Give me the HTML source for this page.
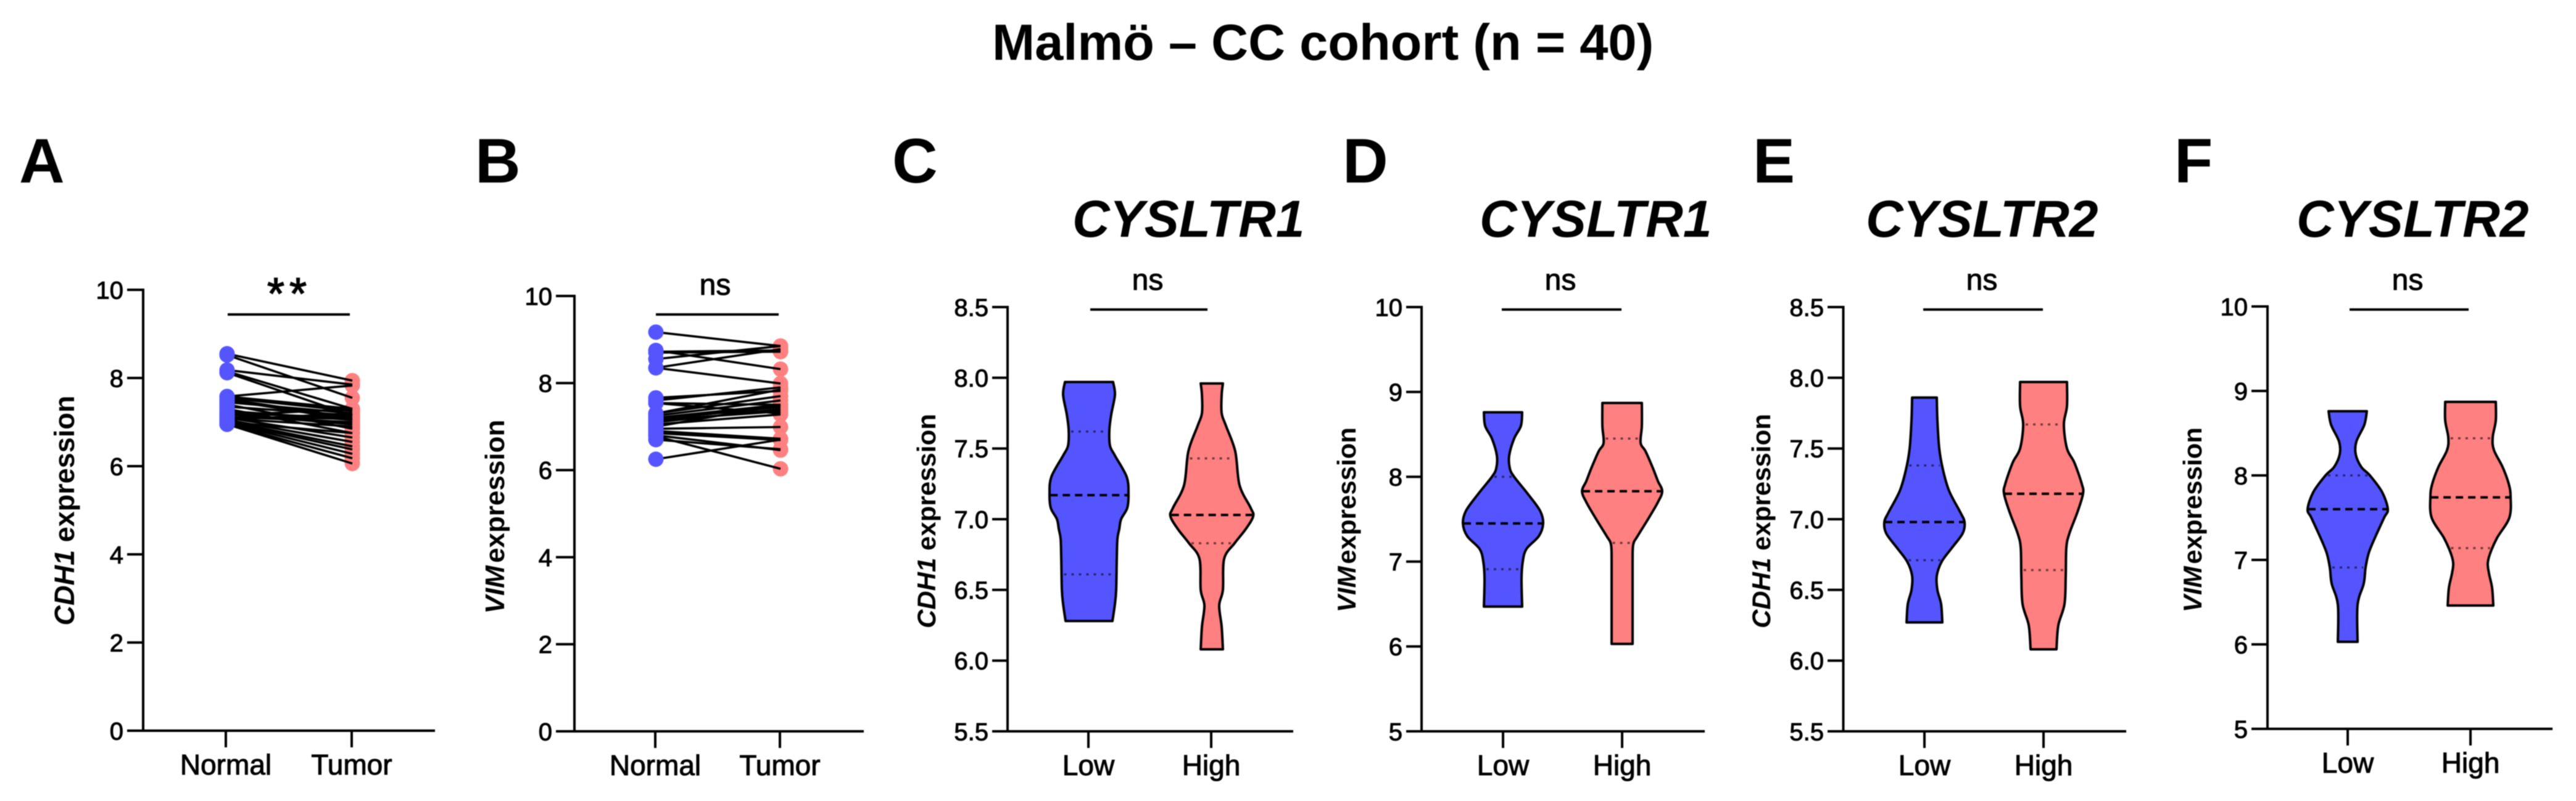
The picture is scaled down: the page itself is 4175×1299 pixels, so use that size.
<!DOCTYPE html>
<html lang="en">
<head>
<meta charset="utf-8">
<title>Malmö – CC cohort (n = 40)</title>
<style>
html,body{margin:0;padding:0;background:#fff;width:4175px;height:1299px;overflow:hidden}
svg{display:block;font-family:"Liberation Sans",Arial,sans-serif;filter:blur(0.8px)}
.letter{font-size:102px;font-weight:700;fill:#000}
.gene{font-size:84px;font-weight:700;font-style:italic;fill:#000}
.ytitle{font-weight:700;fill:#000}
.ytitle .it{font-style:italic}
.sig{font-size:48px;fill:#000;text-anchor:middle;stroke:#000;stroke-width:1px}
.tick{font-size:40px;fill:#000;text-anchor:end;stroke:#000;stroke-width:1px}
.cat{font-size:46px;fill:#000;text-anchor:middle;stroke:#000;stroke-width:1px}
</style>
</head>
<body>
<svg id="chart" xmlns="http://www.w3.org/2000/svg" width="4175" height="1299" viewBox="0 0 4175 1299">
  <rect width="4175" height="1299" fill="#fff"/>
  <text x="1608" y="97" font-size="83" font-weight="700">Malmö – CC cohort (n = 40)</text>

  <text class="letter" x="31" y="296">A</text>
  <text class="letter" x="770" y="296">B</text>
  <text class="letter" x="1446" y="296">C</text>
  <text class="letter" x="2176" y="296">D</text>
  <text class="letter" x="2841" y="296">E</text>
  <text class="letter" x="3524" y="296">F</text>

  <text class="gene" x="1738" y="384">CYSLTR1</text>
  <text class="gene" x="2398" y="384">CYSLTR1</text>
  <text class="gene" x="3024" y="384">CYSLTR2</text>
  <text class="gene" x="3722" y="384">CYSLTR2</text>

  <text class="ytitle" font-size="45" text-anchor="middle" transform="translate(120,828) rotate(-90)"><tspan class="it">CDH1</tspan> expression</text>
  <text class="ytitle" font-size="44" word-spacing="-8" text-anchor="middle" transform="translate(817,838) rotate(-90)"><tspan class="it">VIM</tspan> expression</text>
  <text class="ytitle" font-size="42" text-anchor="middle" transform="translate(1516,845) rotate(-90)"><tspan class="it">CDH1</tspan> expression</text>
  <text class="ytitle" font-size="42" word-spacing="-8" text-anchor="middle" transform="translate(2197,843) rotate(-90)"><tspan class="it">VIM</tspan> expression</text>
  <text class="ytitle" font-size="42" text-anchor="middle" transform="translate(2869,845) rotate(-90)"><tspan class="it">CDH1</tspan> expression</text>
  <text class="ytitle" font-size="42" word-spacing="-8" text-anchor="middle" transform="translate(3568,843) rotate(-90)"><tspan class="it">VIM</tspan> expression</text>

  <text x="469" y="501" font-size="72" letter-spacing="8" text-anchor="middle" stroke="#000" stroke-width="1.5">**</text>
  <text class="sig" x="1159" y="478">ns</text>
  <text class="sig" x="1860" y="470">ns</text>
  <text class="sig" x="2529" y="470">ns</text>
  <text class="sig" x="3212" y="470">ns</text>
  <text class="sig" x="3902" y="470">ns</text>
</svg>
<script>
// ---- tick labels and categories
const pairedTickValues = [0, 2, 4, 6, 8, 10];
const cdh1ViolinTicks = [5.5, 6.0, 6.5, 7.0, 7.5, 8.0, 8.5];
const vimViolinTicks = [5, 6, 7, 8, 9, 10];
const pairedCategories = ['Normal', 'Tumor'];
const violinCategories = ['Low', 'High'];

// ---- panel A: paired CDH1 expression
const aNormal = [8.55,8.52,8.18,8.15,8.12,7.58,7.58,7.55,7.52,7.5,7.45,7.4,7.35,7.3,7.25,7.2,7.18,7.15,7.12,7.1,7.08,7.05,7.05,7.02,7.0,6.98,6.95,6.95,7.0,7.1];
const aTumor  = [7.94,7.55,7.85,7.3,7.15,7.83,7.3,7.25,7.1,7.05,7.2,6.85,7.15,6.75,7.05,7.1,6.95,7.3,7.0,6.65,6.9,6.55,7.2,6.45,6.38,6.28,6.18,6.06,6.75,7.08];

// ---- panel B: paired VIM expression
const bNormal = [9.17,8.75,8.72,8.7,8.55,8.35,8.35,7.66,7.6,7.54,7.54,7.3,7.3,7.25,7.2,7.17,7.15,7.1,7.05,7.0,6.95,6.9,6.85,6.8,6.78,6.7,6.25];
const bTumor  = [8.85,8.32,8.75,8.72,8.85,8.78,7.99,7.82,7.9,7.5,7.3,7.85,7.7,7.6,7.5,7.45,7.35,7.4,7.28,7.5,6.99,6.72,6.69,6.46,6.03,6.48,6.7];

// ---- violin profiles: value levels, density half-widths, quartiles [q1, median, q3]
const cLowLevels   = [7.97,7.88,7.74,7.63,7.52,7.45,7.3,7.18,7.08,7.0,6.93,6.86,6.72,6.5,6.4,6.28];
const cLowDensity  = [39,42,36,33,34,42,61,64,62,52,49,46,45,44,42,38];
const cLowStats    = [6.61,7.17,7.62];
const cHighLevels  = [7.96,7.88,7.75,7.66,7.48,7.24,7.08,7.02,6.93,6.83,6.72,6.5,6.39,6.24,6.08];
const cHighDensity = [18,16,16,23,38,45,63,67,55,37,20,18,12,16,18];
const cHighStats   = [6.83,7.03,7.43];

const dLowLevels   = [8.76,8.6,8.45,8.25,8.1,8.0,7.8,7.6,7.45,7.3,7.15,7.0,6.8,6.47];
const dLowDensity  = [31,29,18,10,11,18,40,60,65,58,38,32,30,31];
const dLowStats    = [6.91,7.45,8.0];
const dHighLevels  = [8.87,8.6,8.4,8.3,8.1,7.95,7.83,7.7,7.5,7.3,7.2,7.0,6.6,6.03];
const dHighDensity = [32,32,30,38,50,58,65,58,42,25,18,17,17,17];
const dHighStats   = [7.22,7.83,8.45];

const eLowLevels   = [7.86,7.7,7.5,7.35,7.2,7.05,6.98,6.9,6.8,6.7,6.6,6.5,6.4,6.27];
const eLowDensity  = [20,21,24,30,40,58,65,62,45,28,20,21,27,29];
const eLowStats    = [6.71,6.98,7.38];
const eHighLevels  = [7.97,7.8,7.67,7.5,7.4,7.25,7.18,7.05,6.9,6.8,6.6,6.4,6.25,6.08];
const eHighDensity = [38,38,33,38,50,62,64,55,42,37,36,34,24,21];
const eHighStats   = [6.64,7.18,7.67];

const fLowLevels   = [8.76,8.6,8.4,8.25,8.1,8.0,7.8,7.6,7.5,7.26,7.08,6.91,6.72,6.47,6.03];
const fLowDensity  = [31,27,14,13,22,36,56,65,59,44,34,29,26,16,16];
const fLowStats    = [6.91,7.6,8.0];
const fHighLevels  = [8.87,8.65,8.45,8.3,8.1,7.9,7.75,7.5,7.26,7.08,6.96,6.84,6.67,6.46];
const fHighDensity = [41,41,36,38,52,62,65,63,43,32,28,30,35,37];
const fHighStats   = [7.14,7.74,8.44];

const BLUE = '#5555ff';
const PINK = '#ff8080';
const NS = 'http://www.w3.org/2000/svg';
const svg = document.getElementById('chart');

function make(tag, parent) {
  const el = document.createElementNS(NS, tag);
  parent.appendChild(el);
  return el;
}
function group(name) {
  const g = make('g', svg);
  
  
  return g;
}
function drawLine(parent, name, x1, y1, x2, y2, w, color, dash) {
  const l = make('line', parent);
  
  
  l.setAttribute('x1', x1); l.setAttribute('y1', y1);
  l.setAttribute('x2', x2); l.setAttribute('y2', y2);
  l.setAttribute('stroke', color || '#000');
  l.setAttribute('stroke-width', w || 4);
  if (dash) l.setAttribute('stroke-dasharray', dash);
  return l;
}
function drawText(parent, name, cls, x, y, str) {
  const t = make('text', parent);
  
  
  t.setAttribute('class', cls);
  t.setAttribute('x', x); t.setAttribute('y', y);
  t.textContent = str;
  return t;
}
function linearScale(d0, d1, r0, r1) {
  return v => r0 + (v - d0) * (r1 - r0) / (d1 - d0);
}
function drawAxes(g, o) {
  const y = linearScale(o.dMin, o.dMax, o.y0, o.y1);
  drawLine(g, 'y-axis', o.ax, o.y1 - 2, o.ax, o.y0 + 2);
  drawLine(g, 'x-axis', o.tickStart, o.y0, o.xEnd, o.y0);
  o.ticks.forEach(v => {
    const py = y(v);
    if (v !== o.dMin) drawLine(g, 'y-tick', o.tickStart, py, o.ax, py);
    drawText(g, 'y-tick-label', 'tick', o.tickStart - 6, py + 14.3, o.fmt(v));
  });
  o.cats.forEach((c, i) => {
    drawLine(g, 'x-tick', o.catX[i], o.y0, o.catX[i], o.y0 + 27);
    drawText(g, 'x-tick-label-' + c.toLowerCase(), 'cat', o.catX[i], o.y0 + 71, c);
  });
  drawLine(g, 'significance-bar', o.bar[0], o.bar[2], o.bar[1], o.bar[2]);
  return y;
}
function drawPaired(name, o, left, right, dotX) {
  const g = group(name);
  const y = drawAxes(g, o);
  right.forEach(v => {
    const c = make('circle', g);
    
    
    c.setAttribute('cx', dotX[1]); c.setAttribute('cy', y(v)); c.setAttribute('r', 12.5);
    c.setAttribute('fill', PINK);
  });
  left.forEach((v, i) => {
    drawLine(g, 'pair-line', dotX[0], y(v), dotX[1], y(right[i]), 3.6, '#000');
  });
  left.forEach(v => {
    const c = make('circle', g);
    
    
    c.setAttribute('cx', dotX[0]); c.setAttribute('cy', y(v)); c.setAttribute('r', 12.5);
    c.setAttribute('fill', BLUE);
  });
}
function halfWidthAt(levels, density, v) {
  for (let i = 0; i < levels.length - 1; i++) {
    if (v <= levels[i] && v >= levels[i + 1]) {
      const t = (levels[i] - v) / (levels[i] - levels[i + 1]);
      return density[i] + t * (density[i + 1] - density[i]);
    }
  }
  return density[0];
}
function sidePath(pts) {
  let d = '';
  for (let i = 0; i < pts.length - 1; i++) {
    const p0 = pts[Math.max(i - 1, 0)], p1 = pts[i], p2 = pts[i + 1], p3 = pts[Math.min(i + 2, pts.length - 1)];
    const c1x = p1[0] + (p2[0] - p0[0]) / 6, c1y = p1[1] + (p2[1] - p0[1]) / 6;
    const c2x = p2[0] - (p3[0] - p1[0]) / 6, c2y = p2[1] - (p3[1] - p1[1]) / 6;
    d += 'C' + c1x + ' ' + c1y + ' ' + c2x + ' ' + c2y + ' ' + p2[0] + ' ' + p2[1];
  }
  return d;
}
function drawViolin(parent, name, y, cx, levels, density, stats, fill) {
  const right = levels.map((v, i) => [cx + density[i], y(v)]);
  const left = levels.map((v, i) => [cx - density[i], y(v)]).reverse();
  const d = 'M' + left[left.length - 1][0] + ' ' + left[left.length - 1][1] +
    'L' + right[0][0] + ' ' + right[0][1] + sidePath(right) +
    'L' + left[0][0] + ' ' + left[0][1] + sidePath(left) + 'Z';
  const p = make('path', parent);
  
  
  p.setAttribute('d', d);
  p.setAttribute('fill', fill);
  p.setAttribute('stroke', '#000');
  p.setAttribute('stroke-width', 4);
  p.setAttribute('stroke-linejoin', 'round');
  [0, 2].forEach(i => {
    const hw = halfWidthAt(levels, density, stats[i]) - 4;
    drawLine(parent, 'quartile-line', cx - hw, y(stats[i]), cx + hw, y(stats[i]), 3.5, 'rgba(0,0,0,.55)', '4 8');
  });
  const mw = halfWidthAt(levels, density, stats[1]) - 1;
  drawLine(parent, 'median-line', cx - mw, y(stats[1]), cx + mw, y(stats[1]), 4, '#000', '12 8');
}
function drawViolinPanel(name, o, low, high) {
  const g = group(name);
  const y = drawAxes(g, o);
  drawViolin(g, 'violin-low', y, o.catX[0] + o.shift, low[0], low[1], low[2], BLUE);
  drawViolin(g, 'violin-high', y, o.catX[1] + o.shift, high[0], high[1], high[2], PINK);
}

const intFmt = v => String(v);
const oneFmt = v => v.toFixed(1);

drawPaired('panel-a', {ax:232, tickStart:206, xEnd:705, y0:1185, y1:470, dMin:0, dMax:10, ticks:pairedTickValues, fmt:intFmt,
  cats:pairedCategories, catX:[366,570], bar:[369,567,510]}, aNormal, aTumor, [368,571]);
drawPaired('panel-b', {ax:931, tickStart:901, xEnd:1400, y0:1186, y1:480, dMin:0, dMax:10, ticks:pairedTickValues, fmt:intFmt,
  cats:pairedCategories, catX:[1062,1264], bar:[1063,1262,510]}, bNormal, bTumor, [1063,1265]);

drawViolinPanel('panel-c', {ax:1633, tickStart:1608, xEnd:2096, y0:1186, y1:498, dMin:5.5, dMax:8.5, ticks:cdh1ViolinTicks, fmt:oneFmt,
  cats:violinCategories, catX:[1764,1963], shift:1, bar:[1767,1957,502]}, [cLowLevels,cLowDensity,cLowStats], [cHighLevels,cHighDensity,cHighStats]);
drawViolinPanel('panel-d', {ax:2304, tickStart:2279, xEnd:2763, y0:1186, y1:498, dMin:5, dMax:10, ticks:vimViolinTicks, fmt:intFmt,
  cats:violinCategories, catX:[2436,2629], shift:0, bar:[2434,2628,502]}, [dLowLevels,dLowDensity,dLowStats], [dHighLevels,dHighDensity,dHighStats]);
drawViolinPanel('panel-e', {ax:2987.5, tickStart:2962, xEnd:3446, y0:1186, y1:498, dMin:5.5, dMax:8.5, ticks:cdh1ViolinTicks, fmt:oneFmt,
  cats:violinCategories, catX:[3119,3312], shift:0, bar:[3117,3311,502]}, [eLowLevels,eLowDensity,eLowStats], [eHighLevels,eHighDensity,eHighStats]);
drawViolinPanel('panel-f', {ax:3675, tickStart:3649, xEnd:4137, y0:1182, y1:497, dMin:5, dMax:10, ticks:vimViolinTicks, fmt:intFmt,
  cats:violinCategories, catX:[3805,4004], shift:0, bar:[3808,4001,502]}, [fLowLevels,fLowDensity,fLowStats], [fHighLevels,fHighDensity,fHighStats]);
</script>
</body>
</html>
